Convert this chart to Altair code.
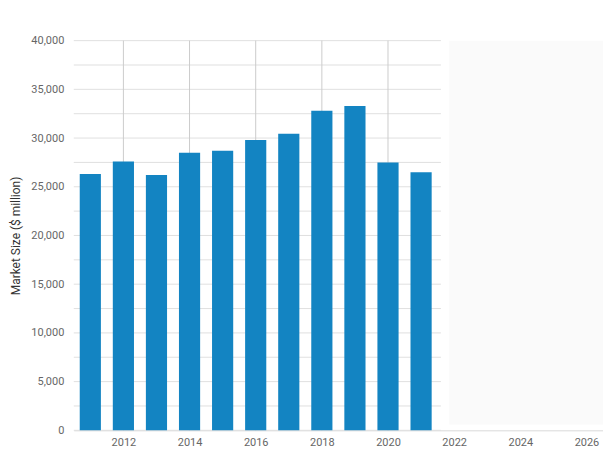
import altair as alt
import pandas as pd

years = [2011, 2012, 2013, 2014, 2015, 2016, 2017, 2018, 2019, 2020, 2021]
market_size = [26300, 27600, 26200, 28500, 28700, 29800, 30450, 32800, 33300, 27500, 26500]
x_ticks = [2012, 2014, 2016, 2018, 2020, 2022, 2024, 2026]
y_ticks = [0, 5000, 10000, 15000, 20000, 25000, 30000, 35000, 40000]
y_grid = [i * 2500 for i in range(17)]
v_grid = [2012, 2014, 2016, 2018, 2020]

X_MIN, X_MAX = 2010.5, 2026.5
HALF = 0.32

bars_df = pd.DataFrame({"year": years, "value": market_size})
bars_df["x0"] = bars_df["year"] - HALF
bars_df["x1"] = bars_df["year"] + HALF

xscale = alt.Scale(domain=[X_MIN, X_MAX], nice=False, zero=False)
yscale = alt.Scale(domain=[0, 40000], nice=False)

font = "Roboto"

x_axis = alt.Axis(values=x_ticks, format="d", title=None, grid=False, ticks=False,
                  domainColor="#d9d9d9", labelColor="#666666", labelFont=font,
                  labelFontSize=11, labelPadding=6)
y_axis = alt.Axis(values=y_ticks, format=",d", title="Market Size ($ million)",
                  grid=False, ticks=False, domain=False, labelColor="#666666",
                  labelFont=font, labelFontSize=11, labelPadding=10,
                  titleFont=font, titleFontSize=12, titleFontWeight="normal",
                  titleColor="#333333", titlePadding=8)

shade = alt.Chart(pd.DataFrame({"a": [2021.85], "b": [X_MAX], "y0": [600], "y1": [40000]})).mark_rect(
    color="#fafafa"
).encode(
    x=alt.X("a:Q", scale=xscale, axis=x_axis),
    x2="b:Q",
    y=alt.Y("y1:Q", scale=yscale, axis=y_axis),
    y2="y0:Q",
)

hgrid = alt.Chart(pd.DataFrame({"v": y_grid, "a": [X_MIN] * len(y_grid), "b": [2021.6] * len(y_grid)})).mark_rule(
    color="#e0e0e0", strokeWidth=1
).encode(
    x=alt.X("a:Q", scale=xscale, axis=x_axis),
    x2="b:Q",
    y=alt.Y("v:Q", scale=yscale, axis=y_axis),
)

vgrid = alt.Chart(pd.DataFrame({"g": v_grid, "lo": [0] * len(v_grid), "hi": [40000] * len(v_grid)})).mark_rule(
    color="#cccccc", strokeWidth=1
).encode(
    x=alt.X("g:Q", scale=xscale, axis=x_axis),
    y=alt.Y("lo:Q", scale=yscale, axis=y_axis),
    y2="hi:Q",
)

bars = alt.Chart(bars_df).mark_rect(color="#1384c2").encode(
    x=alt.X("x0:Q", scale=xscale, axis=x_axis),
    x2="x1:Q",
    y=alt.Y("value:Q", scale=yscale, axis=y_axis),
    y2=alt.datum(0),
)

chart = alt.layer(shade, hgrid, vgrid, bars).properties(
    width=531,
    height=391,
    background="white",
    padding={"left": 66, "top": 32, "right": 0, "bottom": 17},
    autosize=alt.AutoSizeParams(type="none"),
).configure_view(stroke=None)

chart.save("out.html", embed_options={"renderer": "svg", "actions": False})
